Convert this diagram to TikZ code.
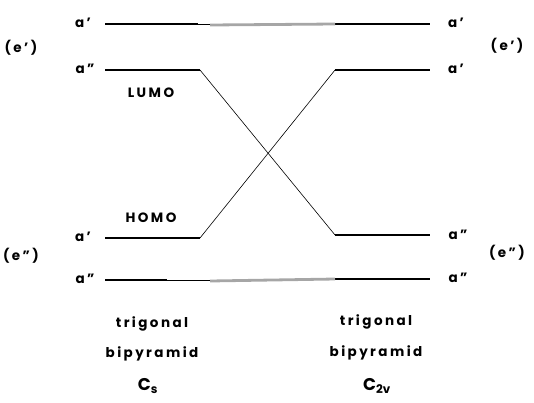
\documentclass[tikz,border=0pt]{standalone}
\usepackage{fontspec}
\setmainfont{Poppins}[LetterSpace=18]
\usepackage{tikz}
\usepackage{xcolor}

\begin{document}
\begin{tikzpicture}[x=1pt, y=-1pt,
    level/.style={line width=1.6pt},
    link/.style={line width=0.6pt},
    corr/.style={black!35, line width=2.8pt},
    lab/.style={font=\bfseries\fontsize{13.5}{15}\selectfont},
    big/.style={font=\bfseries\fontsize{17}{19}\selectfont}]
    \useasboundingbox (0,0) rectangle (534,402);
    % C_s levels
    \coordinate (Ls1) at (105,24);  \coordinate (Ls1e) at (198,24);
    \coordinate (Ls2) at (105,70);  \coordinate (Ls2e) at (200,70);
    \coordinate (Ls3) at (105,238); \coordinate (Ls3e) at (200,238);
    \coordinate (Ls4) at (105,280); \coordinate (Ls4e) at (167,280);
    % C_2v levels
    \coordinate (Rv1) at (335,24);  \coordinate (Rv1e) at (430,24);
    \coordinate (Rv2) at (335,70);  \coordinate (Rv2e) at (430,70);
    \coordinate (Rv3) at (335,235); \coordinate (Rv3e) at (430,235);
    \coordinate (Rv4) at (335,279); \coordinate (Rv4e) at (430,279);
    \draw[level] (Ls1) -- (Ls1e);
    \draw[level] (Ls2) -- (Ls2e);
    \draw[level] (Ls3) -- (Ls3e);
    \draw[level] (Ls4) -- (Ls4e);
    \draw[level] (Rv1) -- (Rv1e);
    \draw[level] (Rv2) -- (Rv2e);
    \draw[level] (Rv3) -- (Rv3e);
    \draw[level] (Rv4) -- (Rv4e);
    % Correlations
    \draw[corr] (Ls1e) ++(12,1) -- (Rv1);
    \draw[link] (Ls1e) -- ++(12,0);
    \draw[corr] (Ls4e) ++(43,1) -- (Rv4);
    \draw[link] (Ls4e) -- ++(43,0);
    \draw[link] (Ls2e) -- (Rv3);
    \draw[link] (Ls3e) -- (Rv2);
    % Labels
    \node[lab] (ls1) at (83,23) {a'};
    \node[lab] (ls2) at (85,69) {a''};
    \node[lab] (ls3) at (83,237) {a'};
    \node[lab] (ls4) at (85,279) {a''};
    \node[lab] (le1) at (21,48) {(e')};
    \node[lab] (le2) at (21,256) {(e'')};
    \node[lab] (rv1) at (456,23) {a'};
    \node[lab] (rv2) at (456,69) {a'};
    \node[lab] (rv3) at (458,235) {a''};
    \node[lab] (rv4) at (458,278) {a''};
    \node[lab] (re1) at (507,46) {(e')};
    \node[lab] (re2) at (507,253) {(e'')};
    \node[lab] (lumo) at (151,93) {LUMO};
    \node[lab] (homo) at (151,218) {HOMO};
    % Geometries
    \node[lab] (cs1) at (152,324) {trigonal};
    \node[lab] (cs2) at (152,354) {bipyramid};
    \node[big] (cs3) at (148,386) {C$_\mathbf{s}$};
    \node[lab] (cv1) at (376,322) {trigonal};
    \node[lab] (cv2) at (376,353) {bipyramid};
    \node[big] (cv3) at (377,386) {C$_\mathbf{2v}$};
\end{tikzpicture}
\end{document}
